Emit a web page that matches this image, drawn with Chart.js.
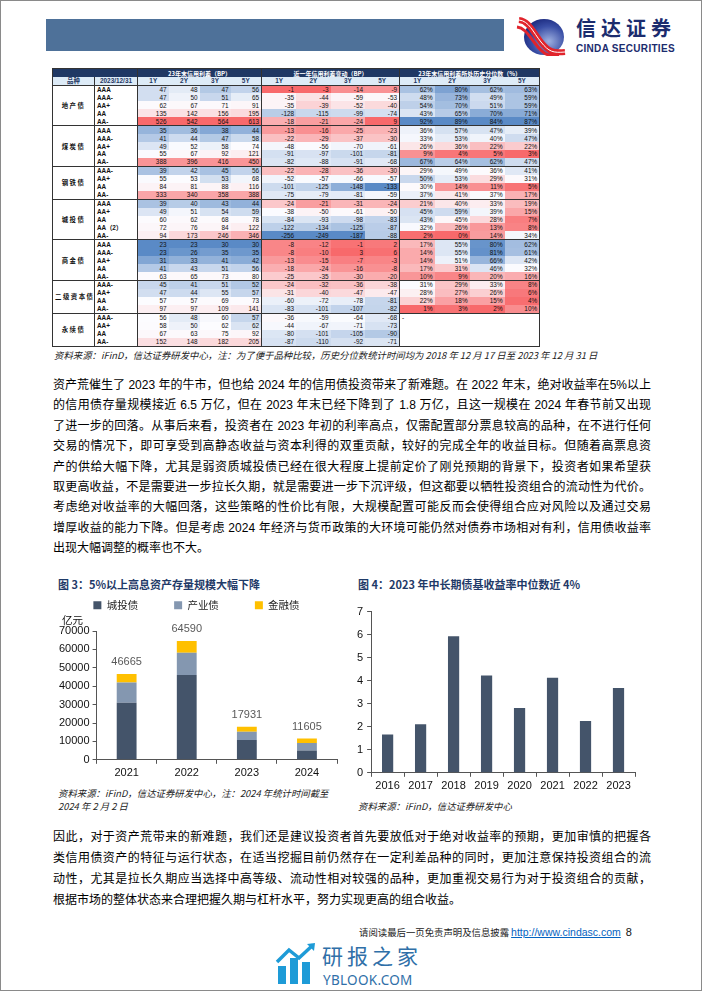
<!DOCTYPE html>
<html lang="zh-CN">
<head>
<meta charset="utf-8">
<title>资产荒下的信用债</title>
<script src="https://cdn.jsdelivr.net/npm/chart.js@4.4.1/dist/chart.umd.min.js"></script>
<style>
  html,body{margin:0;padding:0;background:#fff;}
  #page{position:relative;width:702px;height:991px;box-sizing:border-box;border:1px solid #8a8a8a;overflow:hidden;
        font-family:"Liberation Sans","Noto Sans CJK SC",sans-serif;color:#000;}
  .abs{position:absolute;}
  .hdr{left:45px;top:18px;width:458px;height:32px;background:#4E7199;}
  .brand{left:575px;top:16px;font-family:"Noto Sans CJK SC";font-weight:700;font-size:20px;color:#1B2C6E;letter-spacing:5px;line-height:22px;}
  .brand-en{left:575px;top:42.5px;font-family:"Liberation Sans";font-weight:700;font-size:10px;color:#1B2C6E;line-height:10px;letter-spacing:0.3px;}
  #tbl{position:absolute;left:51px;top:67px;border-collapse:collapse;table-layout:fixed;width:487px;
       font-family:"Liberation Sans",Arial,sans-serif;font-size:6.4px;color:#111;border:1px solid #333;}
  #tbl td{padding:0 2px;height:7.95px;line-height:7px;white-space:nowrap;overflow:hidden;text-align:right;}
  #tbl tr.h1 td{background:#1F3864;color:#fff;font-weight:700;text-align:center;height:8px;font-family:"Noto Sans CJK SC";font-size:6px;}
  #tbl tr.h2 td{background:#DDEBF7;color:#1F3864;font-weight:700;text-align:center;height:7.5px;}
  #tbl td.cat{text-align:center;font-family:"Noto Sans CJK SC";font-weight:700;letter-spacing:1.5px;background:#fff;font-size:6.4px;}
  #tbl td.rt{text-align:left;font-weight:700;background:#fff;}
  #tbl td.sec{border-left:1px solid #333;}
  #tbl tr.gs td{border-top:1px solid #333;}
  .note{font-family:"Noto Sans CJK SC";font-style:italic;font-size:9.4px;color:#222;line-height:13px;white-space:nowrap;}
  .para{left:52px;width:598px;font-size:12px;}
  .para div{text-align:justify;text-align-last:justify;white-space:nowrap;}
  .para div.last{text-align-last:left;}
  .ftitle{font-family:"Noto Sans CJK SC";font-weight:700;font-size:11px;color:#1F3A68;line-height:14px;white-space:nowrap;}
  .foot{left:358px;top:924px;font-size:9.4px;font-family:"Noto Sans CJK SC";color:#222;white-space:nowrap;line-height:14px;}
  .foot a{font-family:"Liberation Sans";font-size:10.5px;color:#0563C1;text-decoration:underline;}
  .foot b{font-family:"Liberation Sans";font-weight:400;font-size:11px;color:#111;margin-left:5px;}
  .wm1{left:321px;top:943px;font-family:"Noto Sans CJK SC";font-size:21px;color:#2F6FA8;line-height:22px;letter-spacing:4px;}
  .wm2{left:322px;top:972px;font-family:"Noto Sans","Liberation Sans";font-size:13.5px;color:#2F6FA8;line-height:15px;letter-spacing:0.3px;}
</style>
</head>
<body>
<div id="page">
  <div class="abs hdr"></div>
  <svg class="abs" style="left:512px;top:15px" width="56" height="40" viewBox="0 0 56 40">
    <defs>
      <radialGradient id="lg" cx="0.62" cy="0.62" r="0.7">
        <stop offset="0" stop-color="#9fb0e0"/><stop offset="0.6" stop-color="#3a4fa6"/><stop offset="1" stop-color="#18267a"/>
      </radialGradient>
    </defs>
    <ellipse cx="31" cy="21" rx="20" ry="18" fill="url(#lg)"/>
    <path d="M6 4 C 16 5, 20 16, 28 26 S 40 37, 52 36" stroke="#e1242c" stroke-width="6" fill="none"/>
    <path d="M6 4 C 16 5, 20 16, 28 26 S 40 37, 52 36" stroke="#fff" stroke-width="1" fill="none"/>
    <path d="M4 11 C 13 12, 17 22, 25 31 S 36 40, 46 39" stroke="#e1242c" stroke-width="3" fill="none"/>
  </svg>
  <div class="abs brand">信达证券</div>
  <div class="abs brand-en">CINDA SECURITIES</div>

  <table id="tbl"></table>
  <div class="abs note" style="left:53px;top:348px">资料来源：iFinD，信达证券研发中心，注：为了便于品种比较，历史分位数统计时间均为 2018 年 12 月 17 日至 2023 年 12 月 31 日</div>

  <div class="abs para" style="top:374px;line-height:20.4px">
    <div>资产荒催生了 2023 年的牛市，但也给 2024 年的信用债投资带来了新难题。在 2022 年末，绝对收益率在5%以上</div>
    <div>的信用债存量规模接近 6.5 万亿，但在 2023 年末已经下降到了 1.8 万亿，且这一规模在 2024 年春节前又出现</div>
    <div>了进一步的回落。从事后来看，投资者在 2023 年初的利率高点，仅需配置部分票息较高的品种，在不进行任何</div>
    <div>交易的情况下，即可享受到高静态收益与资本利得的双重贡献，较好的完成全年的收益目标。但随着高票息资</div>
    <div>产的供给大幅下降，尤其是弱资质城投债已经在很大程度上提前定价了刚兑预期的背景下，投资者如果希望获</div>
    <div>取更高收益，不是需要进一步拉长久期，就是需要进一步下沉评级，但这都要以牺牲投资组合的流动性为代价。</div>
    <div>考虑绝对收益率的大幅回落，这些策略的性价比有限，大规模配置可能反而会使得组合应对风险以及通过交易</div>
    <div>增厚收益的能力下降。但是考虑 2024 年经济与货币政策的大环境可能仍然对债券市场相对有利，信用债收益率</div>
    <div class="last">出现大幅调整的概率也不大。</div>
  </div>

  <div class="abs ftitle" style="left:57px;top:576px">图 3：5%以上高息资产存量规模大幅下降</div>
  <div class="abs ftitle" style="left:357px;top:576px">图 4：2023 年中长期债基收益率中位数近 4%</div>

  <canvas id="c3" class="abs" style="left:55px;top:563px" width="297" height="219"></canvas>
  <canvas id="c4" class="abs" style="left:352px;top:600px" width="290" height="195"></canvas>

  <div class="abs note" style="left:57px;top:786px">资料来源：iFinD，信达证券研发中心，注：2024 年统计时间截至</div>
  <div class="abs note" style="left:57px;top:799px">2024 年 2 月 2 日</div>
  <div class="abs note" style="left:357px;top:799px">资料来源：iFinD，信达证券研发中心</div>

  <div class="abs para" style="top:826px;line-height:21px">
    <div>因此，对于资产荒带来的新难题，我们还是建议投资者首先要放低对于绝对收益率的预期，更加审慎的把握各</div>
    <div>类信用债资产的特征与运行状态，在适当挖掘目前仍然存在一定利差品种的同时，更加注意保持投资组合的流</div>
    <div>动性，尤其是拉长久期应当选择中高等级、流动性相对较强的品种，更加重视交易行为对于投资组合的贡献，</div>
    <div class="last">根据市场的整体状态来合理把握久期与杠杆水平，努力实现更高的组合收益。</div>
  </div>

  <div class="abs foot">请阅读最后一页免责声明及信息披露 <a>http://www.cindasc.com</a><b>8</b></div>

  <svg class="abs" style="left:274px;top:941px" width="44" height="44" viewBox="0 0 44 44">
    <rect x="3" y="24" width="8" height="18" fill="#1E9BD7"/>
    <rect x="15" y="16" width="8" height="26" fill="#1E9BD7"/>
    <rect x="27" y="20" width="8" height="22" fill="#1E9BD7"/>
    <path d="M2 20 L14 8 L24 16 L38 3" stroke="#1E9BD7" stroke-width="3.5" fill="none"/>
    <path d="M32 2 L40 1 L39 9 Z" fill="#1E9BD7"/>
  </svg>
  <div class="abs wm1">研报之家</div>
  <div class="abs wm2">YBLOOK.COM</div>
</div>

<script>
// ---- 表：信用利差 / 变动 / 历史分位数 ----
const groups = ['地产债', '煤炭债', '钢铁债', '城投债', '商金债', '二级资本债', '永续债'];
const ratings = [
  ['AAA', 'AAA-', 'AA+', 'AA', 'AA-'],
  ['AAA', 'AAA-', 'AA+', 'AA', 'AA-'],
  ['AAA-', 'AA+', 'AA', 'AA-'],
  ['AAA', 'AA+', 'AA', 'AA（2）', 'AA-'],
  ['AAA', 'AAA-', 'AA+', 'AA', 'AA-'],
  ['AAA-', 'AA+', 'AA', 'AA-'],
  ['AAA-', 'AA+', 'AA', 'AA-']
];
const tenors = ['1Y', '2Y', '3Y', '5Y'];

// 23年末信用利差（BP）
const spread = [
  [47, 48, 47, 56], [47, 50, 51, 65], [62, 67, 71, 91], [135, 142, 156, 195], [526, 542, 564, 613],
  [35, 36, 38, 44], [41, 44, 47, 58], [49, 52, 58, 74], [55, 67, 92, 121], [388, 396, 416, 450],
  [39, 42, 45, 56], [55, 53, 53, 68], [84, 81, 88, 116], [333, 340, 358, 388],
  [39, 40, 43, 44], [49, 51, 54, 59], [60, 62, 68, 78], [72, 76, 84, 122], [94, 173, 246, 346],
  [23, 23, 30, 30], [23, 26, 35, 35], [31, 33, 41, 42], [41, 43, 51, 56], [63, 65, 73, 80],
  [45, 41, 51, 52], [47, 44, 55, 57], [57, 57, 69, 73], [97, 97, 109, 141],
  [56, 48, 60, 57], [58, 50, 62, 62], [67, 63, 75, 92], [152, 148, 182, 205]
];
// 近一年信用利差变动（BP）
const change = [
  [-1, -3, -14, -9], [-35, -44, -59, -53], [-35, -39, -52, -40], [-128, -115, -99, -74], [-18, -21, -24, 9],
  [-13, -16, -25, -23], [-22, -29, -37, -30], [-48, -56, -70, -61], [-91, -97, -101, -81], [-82, -88, -91, -68],
  [-22, -28, -36, -30], [-52, -57, -66, -57], [-101, -125, -148, -133], [-75, -79, -81, -59],
  [-24, -21, -31, -24], [-38, -50, -61, -50], [-84, -93, -98, -83], [-122, -134, -125, -87], [-256, -249, -187, -88],
  [-8, -12, -1, 2], [-8, -10, 3, 6], [-13, -15, -7, -3], [-18, -24, -16, -8], [-25, -35, -30, -20],
  [-24, -32, -36, -38], [-31, -40, -47, -47], [-60, -72, -78, -81], [-83, -101, -107, -82],
  [-36, -59, -64, -68], [-44, -67, -71, -73], [-80, -101, -105, -90], [-87, -110, -92, -71]
];
// 23年末信用利差所处历史分位数（%），永续债无数据
const pctile = [
  [62, 80, 62, 63], [48, 73, 49, 59], [54, 70, 51, 59], [43, 65, 70, 71], [92, 89, 84, 87],
  [36, 57, 47, 39], [33, 53, 40, 47], [26, 36, 22, 22], [9, 4, 5, 3], [67, 64, 62, 47],
  [29, 49, 36, 41], [50, 53, 29, 31], [30, 14, 11, 5], [37, 41, 37, 17],
  [21, 40, 33, 19], [45, 59, 39, 15], [43, 45, 28, 7], [32, 26, 13, 8], [2, 0, 14, 34],
  [17, 55, 80, 62], [14, 55, 81, 61], [14, 51, 66, 42], [17, 31, 46, 32], [10, 9, 20, 16],
  [31, 29, 33, 8], [28, 27, 26, 6], [22, 18, 15, 4], [1, 3, 2, 10],
  null, null, null, null
];

// ---- 图3：5%以上高息资产存量（亿元） ----
const years3 = ['2021', '2022', '2023', '2024'];
const chengtou = [31000, 46100, 10800, 5000];
const chanye = [11000, 12050, 4450, 4150];
const jinrong = [4665, 6440, 2681, 2455];
const totals3 = [46665, 64590, 17931, 11605];

// ---- 图4：中长期债基收益率中位数（%） ----
const years4 = ['2016', '2017', '2018', '2019', '2020', '2021', '2022', '2023'];
const medianYield = [1.66, 2.11, 5.93, 4.23, 2.81, 4.13, 2.25, 3.68];

/* 3色阶：同 Excel 默认（红 / 白 / 蓝），按列取 min / 中位数 / max */
const RED = [248, 105, 107], WHITE = [252, 252, 255], BLUE = [90, 138, 198];
function mix(a, b, t){ return 'rgb(' + a.map((v,i)=>Math.round(v + (b[i]-v)*t)).join(',') + ')'; }
function colStats(rows, j){
  const vals = rows.filter(r => r).map(r => r[j]).sort((a,b)=>a-b);
  const n = vals.length;
  const med = n % 2 ? vals[(n-1)/2] : (vals[n/2-1] + vals[n/2]) / 2;
  return { min: vals[0], med, max: vals[n-1] };
}
function heat(v, s, lowCol, highCol){
  if (v <= s.med) return mix(WHITE, lowCol, s.med === s.min ? 0 : (s.med - v) / (s.med - s.min));
  return mix(WHITE, highCol, s.max === s.med ? 0 : (v - s.med) / (s.max - s.med));
}

function buildTable(){
  const t = document.getElementById('tbl');
  const sS = tenors.map((_,j)=>colStats(spread, j));
  const sC = tenors.map((_,j)=>colStats(change, j));
  const sP = tenors.map((_,j)=>colStats(pctile, j));

  let html = '<colgroup><col style="width:42px"><col style="width:43px">' +
    '<col style="width:31px">'.repeat(4) + '<col style="width:34.5px">'.repeat(4) + '<col style="width:35px">'.repeat(4) + '</colgroup>';
  html += '<tr class="h1"><td></td><td></td>' +
    '<td colspan="4" class="sec">23年末信用利差（BP）</td>' +
    '<td colspan="4" class="sec">近一年信用利差变动（BP）</td>' +
    '<td colspan="4" class="sec">23年末信用利差所处历史分位数（%）</td></tr>';
  html += '<tr class="h2"><td style="font-family:\'Noto Sans CJK SC\'">品种</td><td class="sec">2023/12/31</td>' +
    [0,1,2].map(k => tenors.map((x,j)=>`<td${j===0?' class="sec"':''}>${x}</td>`).join('')).join('') + '</tr>';

  let r = 0;
  groups.forEach((g, gi) => {
    ratings[gi].forEach((rt, k) => {
      let row = `<tr${k===0?' class="gs"':''}>`;
      if (k === 0) row += `<td class="cat" rowspan="${ratings[gi].length}">${g}</td>`;
      row += `<td class="rt sec">${rt}</td>`;
      spread[r].forEach((v,j)=>{ row += `<td${j===0?' class="sec"':''} style="background:${heat(v, sS[j], BLUE, RED)}">${v}</td>`; });
      change[r].forEach((v,j)=>{ row += `<td${j===0?' class="sec"':''} style="background:${heat(v, sC[j], BLUE, RED)}">${v}</td>`; });
      if (pctile[r]) {
        pctile[r].forEach((v,j)=>{ row += `<td${j===0?' class="sec"':''} style="background:${heat(v, sP[j], RED, BLUE)}">${v}%</td>`; });
      } else if (k === 0) {
        row += `<td class="sec" colspan="4" rowspan="${ratings[gi].length}" style="text-align:left;vertical-align:top;background:#fff">-</td>`;
      }
      row += '</tr>';
      html += row;
      r++;
    });
  });
  t.innerHTML = html;
}
buildTable();

// ---- Chart.js ----
Chart.defaults.font.family = '"Liberation Sans", "Noto Sans CJK SC", sans-serif';
Chart.defaults.color = '#111';

// 图例高度固定，留出“亿元”的位置
const legendHeight = {
  id: 'legendHeight',
  beforeInit(chart){
    const fit = chart.legend.fit;
    chart.legend.fit = function(){ fit.bind(chart.legend)(); this.height = 67; };
  }
};
const totalsLabel = {
  id: 'totalsLabel',
  afterDatasetsDraw(chart){
    const { ctx } = chart;
    const meta = chart.getDatasetMeta(chart.data.datasets.length - 1);
    ctx.save();
    ctx.font = '11px "Liberation Sans"';
    ctx.fillStyle = '#595959';
    ctx.textAlign = 'center';
    ctx.textBaseline = 'bottom';
    meta.data.forEach((bar, i) => ctx.fillText(String(totals3[i]), bar.x, bar.y - 6));
    ctx.restore();
  }
};
const unitLabel = {
  id: 'unitLabel',
  afterDraw(chart){
    const { ctx } = chart;
    ctx.save();
    ctx.font = '10.5px "Noto Sans CJK SC"';
    ctx.fillStyle = '#111';
    ctx.textBaseline = 'middle';
    ctx.fillText('亿元', chart.scales.y.left + 6, chart.chartArea.top - 11);
    ctx.restore();
  }
};

const axisCommon = (extra) => Object.assign({
  grid: { display: true, drawOnChartArea: false, drawTicks: true, tickLength: 4, color: '#555' },
  border: { display: true, color: '#555' }
}, extra);

new Chart(document.getElementById('c3'), {
  type: 'bar',
  data: {
    labels: years3,
    datasets: [
      { label: '城投债', data: chengtou, backgroundColor: '#44546A' },
      { label: '产业债', data: chanye, backgroundColor: '#8497B0' },
      { label: '金融债', data: jinrong, backgroundColor: '#FFC000' }
    ]
  },
  options: {
    responsive: false, animation: false, devicePixelRatio: 1,
    datasets: { bar: { barPercentage: 0.33, categoryPercentage: 1 } },
    layout: { padding: { top: 0, right: 16, left: 0, bottom: 0 } },
    plugins: {
      legend: { position: 'top', labels: { boxWidth: 8, boxHeight: 8, padding: 36,
        font: { size: 10.5, family: '"Noto Sans CJK SC"' }, color: '#222' } },
      tooltip: { enabled: false }
    },
    scales: {
      x: axisCommon({ stacked: true, ticks: { font: { size: 11 }, padding: 3 } }),
      y: axisCommon({ stacked: true, min: 0, max: 70000,
        ticks: { stepSize: 10000, autoSkip: false, font: { size: 11 }, padding: 3, callback: v => String(v) } })
    }
  },
  plugins: [legendHeight, totalsLabel, unitLabel]
});

new Chart(document.getElementById('c4'), {
  type: 'bar',
  data: {
    labels: years4,
    datasets: [{ label: '收益率中位数', data: medianYield, backgroundColor: '#44546A' }]
  },
  options: {
    responsive: false, animation: false, devicePixelRatio: 1,
    datasets: { bar: { barPercentage: 0.34, categoryPercentage: 1 } },
    layout: { padding: { top: 6, right: 8, left: 0, bottom: 0 } },
    plugins: { legend: { display: false }, tooltip: { enabled: false } },
    scales: {
      x: axisCommon({ ticks: { font: { size: 11 }, padding: 3 } }),
      y: axisCommon({ min: 0, max: 7, ticks: { stepSize: 1, font: { size: 11 }, padding: 4 } })
    }
  }
});
</script>
</body>
</html>
